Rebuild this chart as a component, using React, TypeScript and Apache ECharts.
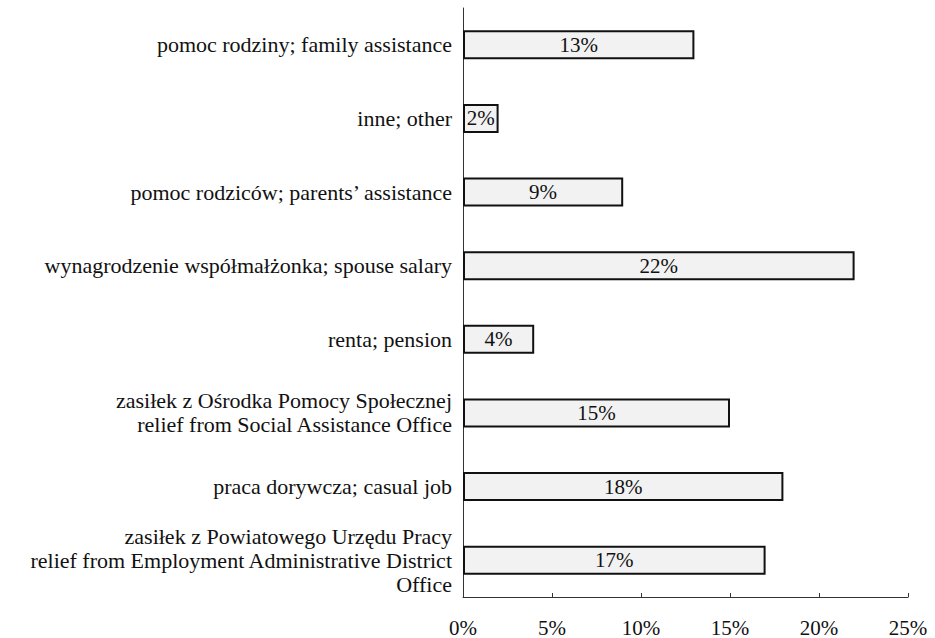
import React, { useEffect, useRef } from "react";
import * as echarts from "echarts";

const categories = [
  "pomoc rodziny; family assistance",
  "inne; other",
  "pomoc rodziców; parents’ assistance",
  "wynagrodzenie współmałżonka; spouse salary",
  "renta; pension",
  "zasiłek z Ośrodka Pomocy Społecznej\nrelief from Social Assistance Office",
  "praca dorywcza; casual job",
  "zasiłek z Powiatowego Urzędu Pracy\nrelief from Employment Administrative District\nOffice",
];
const values = [13, 2, 9, 22, 4, 15, 18, 17];
const xTicks = [0, 5, 10, 15, 20, 25];

export default function App() {
  const ref = useRef<HTMLDivElement>(null);
  useEffect(() => {
    if (!ref.current) return;
    const chart = echarts.init(ref.current, undefined, { renderer: "svg" });
    const font = "'Liberation Serif', 'Times New Roman', serif";
    const yData = categories.map((c, i) =>
      i === categories.length - 1
        ? { value: c, textStyle: { padding: [28, 0, 0, 0] } }
        : i === 5
        ? { value: c, textStyle: { padding: [8, 0, 0, 0] } }
        : c
    );
    chart.setOption({
      animation: false,
      backgroundColor: "#ffffff",
      grid: { left: 463, right: 27, top: 8, bottom: 41, containLabel: false },
      xAxis: {
        type: "value",
        min: xTicks[0],
        max: xTicks[xTicks.length - 1],
        interval: 5,
        axisLine: { show: true, lineStyle: { color: "#333", width: 1 } },
        axisTick: { show: true, inside: true, length: 4, lineStyle: { color: "#333" } },
        splitLine: { show: false },
        axisLabel: {
          formatter: "{value}%",
          color: "#111",
          fontFamily: font,
          fontSize: 21,
          margin: 20,
        },
      },
      yAxis: {
        type: "category",
        data: yData,
        inverse: true,
        axisLine: { show: true, lineStyle: { color: "#333", width: 1 } },
        axisTick: { show: false },
        axisLabel: {
          color: "#111",
          fontFamily: font,
          fontSize: 22,
          lineHeight: 24,
          margin: 11,
          align: "right",
        },
      },
      series: [
        {
          type: "bar",
          data: values,
          barWidth: 29,
          itemStyle: { color: "#f2f2f2", borderColor: "#111", borderWidth: 2 },
          label: {
            show: true,
            position: "inside",
            formatter: "{c}%",
            color: "#111",
            fontFamily: font,
            fontSize: 21,
          },
        },
      ],
    });
    return () => chart.dispose();
  }, []);
  return (
    <div
      ref={ref}
      style={{ position: "fixed", left: 0, top: 0, width: 935, height: 638 }}
    />
  );
}
